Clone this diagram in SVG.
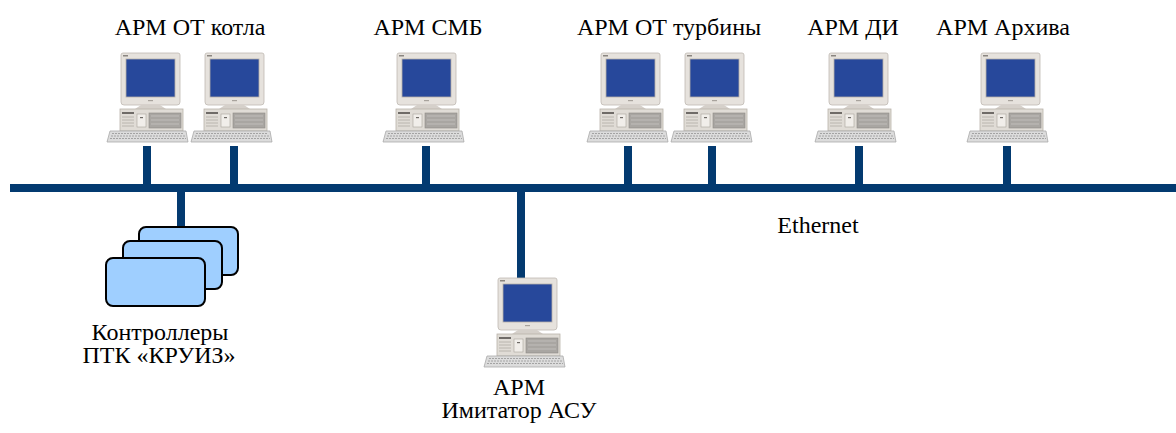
<svg xmlns="http://www.w3.org/2000/svg" width="1176" height="433" viewBox="0 0 1176 433">
  <defs>
    <!-- desktop workstation: origin at keyboard left / monitor top -->
    <g id="pc">
      <!-- monitor -->
      <path d="M14,2 Q14,0 16,0 L71,0 Q73,0 73,2 L73,49 Q73,52 70,52 L17,52 Q14,52 14,49 Z" fill="#e6e2dd" stroke="#bfb9b2" stroke-width="0.8"/>
      <rect x="16" y="2" width="5" height="1.5" fill="#8a8580"/>
      <rect x="19" y="6" width="49" height="38" fill="#27489b" stroke="#b6b0a8" stroke-width="0.8"/>
      <rect x="41" y="47" width="5" height="1.2" fill="#a8a39d"/>
      <!-- stand -->
      <path d="M34,52 L53,52 L59,56 L28,56 Z" fill="#d5d0ca"/>
      <!-- system unit -->
      <rect x="13" y="56" width="63" height="22" fill="#e0dcd6" stroke="#b9b3ab" stroke-width="0.8"/>
      <rect x="15" y="59" width="12" height="2" fill="#6f6b67"/>
      <path d="M15,64 H27 M15,67 H27 M15,70 H27 M15,73 H27" stroke="#b0aba5" stroke-width="0.8"/>
      <rect x="30" y="61" width="9" height="13" fill="#f1eeea" stroke="#a9a39c" stroke-width="0.6"/>
      <rect x="33" y="64" width="3" height="1.2" fill="#6f6b67"/>
      <rect x="42" y="60" width="32" height="15" fill="#a9a6a2" stroke="#8e8a85" stroke-width="0.6"/>
      <path d="M44,63 H72 M44,67 H72 M44,71 H72" stroke="#c7c4c0" stroke-width="0.8"/>
      <!-- keyboard -->
      <path d="M3,78 L79,78 L81,89 L0,89 Z" fill="#dcdcdc" stroke="#a9a9a9" stroke-width="0.8"/>
      <path d="M5,80.5 H77 M4,83 H78 M3,85.5 H79" stroke="#9c9c9c" stroke-width="0.9" stroke-dasharray="2 1"/>
    </g>
    <!-- controller board -->
    <rect id="card" width="99" height="48" rx="7" fill="#9fcfff" stroke="#000" stroke-width="2"/>
  </defs>

  <!-- network bus and drops -->
  <g id="connectors" fill="#033a70">
    <rect x="10" y="184" width="1166" height="8"/>
    <rect x="143" y="146" width="8" height="38"/>
    <rect x="230" y="146" width="8" height="38"/>
    <rect x="422" y="146" width="8" height="38"/>
    <rect x="624" y="146" width="8" height="38"/>
    <rect x="708" y="146" width="8" height="38"/>
    <rect x="855" y="146" width="8" height="38"/>
    <rect x="1003" y="146" width="8" height="38"/>
    <rect x="177" y="192" width="8" height="36"/>
    <rect x="517" y="192" width="8" height="87"/>
  </g>

  <g id="arm-ot-kotla">
    <use href="#pc" x="107" y="53"/>
    <use href="#pc" x="191" y="53"/>
  </g>
  <g id="arm-smb">
    <use href="#pc" x="383" y="53"/>
  </g>
  <g id="arm-ot-turbiny">
    <use href="#pc" x="587" y="53"/>
    <use href="#pc" x="671" y="53"/>
  </g>
  <g id="arm-di">
    <use href="#pc" x="815" y="53"/>
  </g>
  <g id="arm-arhiva">
    <use href="#pc" x="967" y="53"/>
  </g>
  <g id="controllers">
    <use href="#card" x="139" y="227"/>
    <use href="#card" x="123" y="241"/>
    <use href="#card" x="106" y="258"/>
  </g>
  <g id="arm-imitator">
    <use href="#pc" x="484" y="278"/>
  </g>

  <!-- captions -->
  <text x="190" y="35" font-family="Times New Roman, Liberation Serif, serif" font-size="24" text-anchor="middle">АРМ ОТ котла</text>
  <text x="428" y="35" font-family="Times New Roman, Liberation Serif, serif" font-size="24" text-anchor="middle">АРМ СМБ</text>
  <text x="669" y="35" font-family="Times New Roman, Liberation Serif, serif" font-size="24" text-anchor="middle">АРМ ОТ турбины</text>
  <text x="853" y="35" font-family="Times New Roman, Liberation Serif, serif" font-size="24" text-anchor="middle">АРМ ДИ</text>
  <text x="1003" y="35" font-family="Times New Roman, Liberation Serif, serif" font-size="24" text-anchor="middle">АРМ Архива</text>
  <text x="160" y="340" font-family="Times New Roman, Liberation Serif, serif" font-size="24" text-anchor="middle">Контроллеры</text>
  <text x="159" y="363" font-family="Times New Roman, Liberation Serif, serif" font-size="24" text-anchor="middle">ПТК «КРУИЗ»</text>
  <text x="519" y="395" font-family="Times New Roman, Liberation Serif, serif" font-size="24" text-anchor="middle">АРМ</text>
  <text x="519" y="418" font-family="Times New Roman, Liberation Serif, serif" font-size="24" text-anchor="middle">Имитатор АСУ</text>
  <text x="818" y="233" font-family="Times New Roman, Liberation Serif, serif" font-size="24" text-anchor="middle">Ethernet</text>
</svg>
